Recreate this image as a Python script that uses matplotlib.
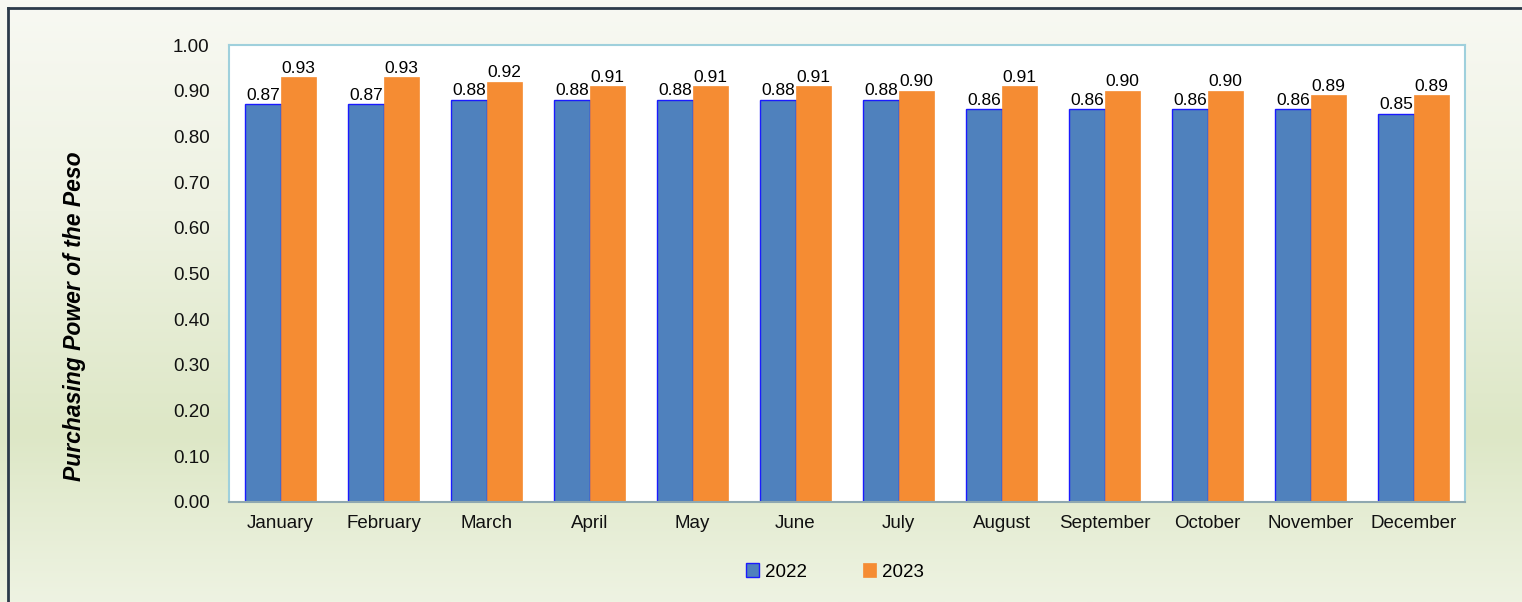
import numpy as np
import matplotlib
matplotlib.use("Agg")
import matplotlib.pyplot as plt
from matplotlib.colors import LinearSegmentedColormap

months = ["January", "February", "March", "April", "May", "June", "July",
          "August", "September", "October", "November", "December"]
pp_2022 = [0.87, 0.87, 0.88, 0.88, 0.88, 0.88, 0.88, 0.86, 0.86, 0.86, 0.86, 0.85]
pp_2023 = [0.93, 0.93, 0.92, 0.91, 0.91, 0.91, 0.90, 0.91, 0.90, 0.90, 0.89, 0.89]
series_labels = ["2022", "2023"]

plt.rcParams["font.family"] = ["Liberation Sans", "DejaVu Sans"]

fig = plt.figure(figsize=(15.22, 6.02), dpi=100)

# background gradient
bg = fig.add_axes([0, 0, 1, 1], zorder=-10)
cmap = LinearSegmentedColormap.from_list(
    "bg", [(0.0, "#f8f9f3"), (0.35, "#eef2e2"), (0.72, "#dde7c6"), (1.0, "#eef3e2")])
grad = np.linspace(0, 1, 256).reshape(-1, 1)
bg.imshow(grad, aspect="auto", cmap=cmap, extent=[0, 1, 0, 1], origin="upper")
bg.set_xlim(0, 1)
bg.set_ylim(0, 1)
bg.axis("off")
# outer frame
bg.plot([8/1522, 8/1522], [0, 1 - 8/602], color="#2b3a4a", lw=2)
bg.plot([8/1522, 1], [1 - 8/602, 1 - 8/602], color="#2b3a4a", lw=2)

ax = fig.add_axes([229/1522, 1 - 502/602, (1465 - 229)/1522, (502 - 45)/602])
ax.set_facecolor("white")

x = np.arange(len(months))
w = 0.34
b1 = ax.bar(x - w/2, pp_2022, w, color="#4f81bd", edgecolor="#1a1aff", linewidth=1,
            label=series_labels[0])
b2 = ax.bar(x + w/2, pp_2023, w, color="#f58c33", edgecolor="#f58c33", linewidth=0.5,
            label=series_labels[1])
ax.bar_label(b1, fmt="%.2f", fontsize=12.5, padding=1)
ax.bar_label(b2, fmt="%.2f", fontsize=12.5, padding=1)

ax.set_xlim(-0.5, len(months) - 0.5)
ax.set_ylim(0, 1.0)
ax.set_yticks(np.arange(0, 1.01, 0.1))
ax.set_yticklabels([f"{v:.2f}" for v in np.arange(0, 1.01, 0.1)])
ax.set_xticks(x)
ax.set_xticklabels(months)
ax.tick_params(axis="both", length=0, labelsize=13.5, colors="#111111")
ax.tick_params(axis="y", pad=14)
ax.tick_params(axis="x", pad=9)

for side in ["top", "right", "left"]:
    ax.spines[side].set_color("#9fd0dc")
    ax.spines[side].set_linewidth(1.5)
ax.spines["bottom"].set_color("#8fa8b0")
ax.spines["bottom"].set_linewidth(1.5)

fig.text(75/1522, 1 - 316/602, "Purchasing Power of the Peso", rotation=90,
         fontsize=16.5, fontweight="bold", fontstyle="italic", ha="center", va="center")

fig.legend(handles=[b1, b2], labels=series_labels, loc="center",
           bbox_to_anchor=(835/1522, 1 - 572/602), ncol=2, frameon=False,
           fontsize=13.5, handlelength=0.7, handleheight=0.7, columnspacing=3.0,
           handletextpad=0.3)

fig.savefig("out.png", dpi=100)
